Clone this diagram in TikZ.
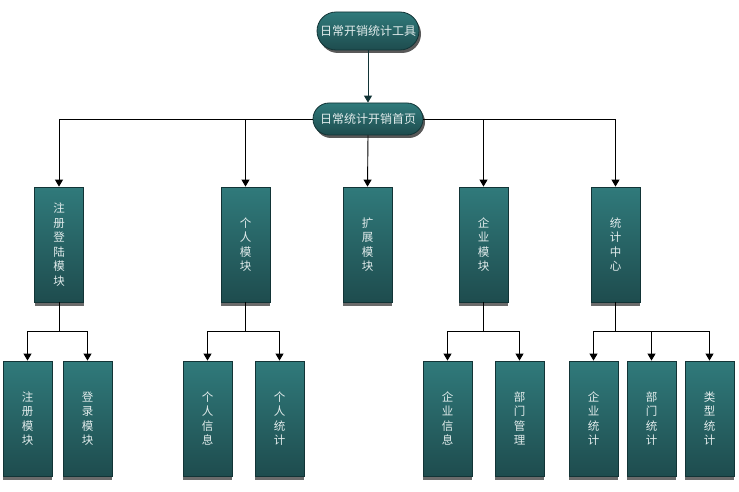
\documentclass[tikz,border=0pt]{standalone}
\usepackage{fontspec}
\setmainfont{Noto Sans CJK SC}
\usetikzlibrary{arrows.meta,shadows}
\definecolor{tealtop}{RGB}{48,122,123}
\definecolor{tealbot}{RGB}{30,76,78}
\definecolor{tealline}{RGB}{18,52,54}
\definecolor{boxtext}{RGB}{226,236,236}
\tikzset{
  modbox/.style={draw=tealline, line width=0.8pt, top color=tealtop, bottom color=tealbot, text=boxtext,
    minimum width=49pt, minimum height=115pt, inner sep=0pt, align=center,
    font=\fontsize{11.5}{14.5}\selectfont,
    drop shadow={shadow xshift=0pt, shadow yshift=-4pt, fill=black!58, opacity=1}},
  pill/.style={draw=tealline, line width=0.8pt, top color=tealtop, bottom color=tealbot, text=boxtext,
    inner sep=0pt, font=\fontsize{12}{14}\selectfont,
    drop shadow={shadow xshift=2pt, shadow yshift=-3pt, fill=black!65, opacity=1}},
  arr/.style={-{Triangle[width=8pt,length=7pt]}, line width=0.9pt}
}
\begin{document}
\begin{tikzpicture}[x=1pt, y=-1pt]
  \useasboundingbox (0,0) rectangle (739,492);
  \node[pill, minimum width=102pt, minimum height=38pt, rounded corners=19pt] (tool) at (368,31) {日常开销统计工具};
  \node[pill, minimum width=110pt, minimum height=32pt, rounded corners=16pt] (home) at (368,119) {日常统计开销首页};

  \node[modbox] (login) at (59,244.5) {注\\册\\登\\陆\\模\\块};
  \node[modbox] (person) at (245.5,244.5) {个\\人\\模\\块};
  \node[modbox] (ext) at (367.5,244.5) {扩\\展\\模\\块};
  \node[modbox] (corp) at (483.5,244.5) {企\\业\\模\\块};
  \node[modbox] (stat) at (615.5,244.5) {统\\计\\中\\心};

  \node[modbox] (reg) at (27.5,418.5) {注\\册\\模\\块};
  \node[modbox] (signin) at (87.5,418.5) {登\\录\\模\\块};
  \node[modbox] (pinfo) at (207.5,418.5) {个\\人\\信\\息};
  \node[modbox] (pstat) at (279.5,418.5) {个\\人\\统\\计};
  \node[modbox] (cinfo) at (447.5,418.5) {企\\业\\信\\息};
  \node[modbox] (dept) at (519.5,418.5) {部\\门\\管\\理};
  \node[modbox] (cstat) at (593.5,418.5) {企\\业\\统\\计};
  \node[modbox] (dstat) at (651.5,418.5) {部\\门\\统\\计};
  \node[modbox] (tstat) at (709.5,418.5) {类\\型\\统\\计};

  \draw[arr, draw=tealline] (tool) -- (home);
  \draw[arr] (home.west) -| (login.north);
  \draw[arr] (home.west) -| (person.north);
  \draw[arr] (home.south) -- (ext.north);
  \draw[arr] (home.east) -| (corp.north);
  \draw[arr] (home.east) -| (stat.north);

  % second level branches
  \draw[arr] (login.south) -- ++(0,29) -| (reg.north);
  \draw[arr] (login.south) -- ++(0,29) -| (signin.north);
  \draw[arr] (person.south) -- ++(0,29) -| (pinfo.north);
  \draw[arr] (person.south) -- ++(0,29) -| (pstat.north);
  \draw[arr] (corp.south) -- ++(0,29) -| (cinfo.north);
  \draw[arr] (corp.south) -- ++(0,29) -| (dept.north);
  \draw[arr] (stat.south) -- ++(0,29) -| (cstat.north);
  \draw[arr] (stat.south) -- ++(0,29) -| (dstat.north);
  \draw[arr] (stat.south) -- ++(0,29) -| (tstat.north);
\end{tikzpicture}
\end{document}
